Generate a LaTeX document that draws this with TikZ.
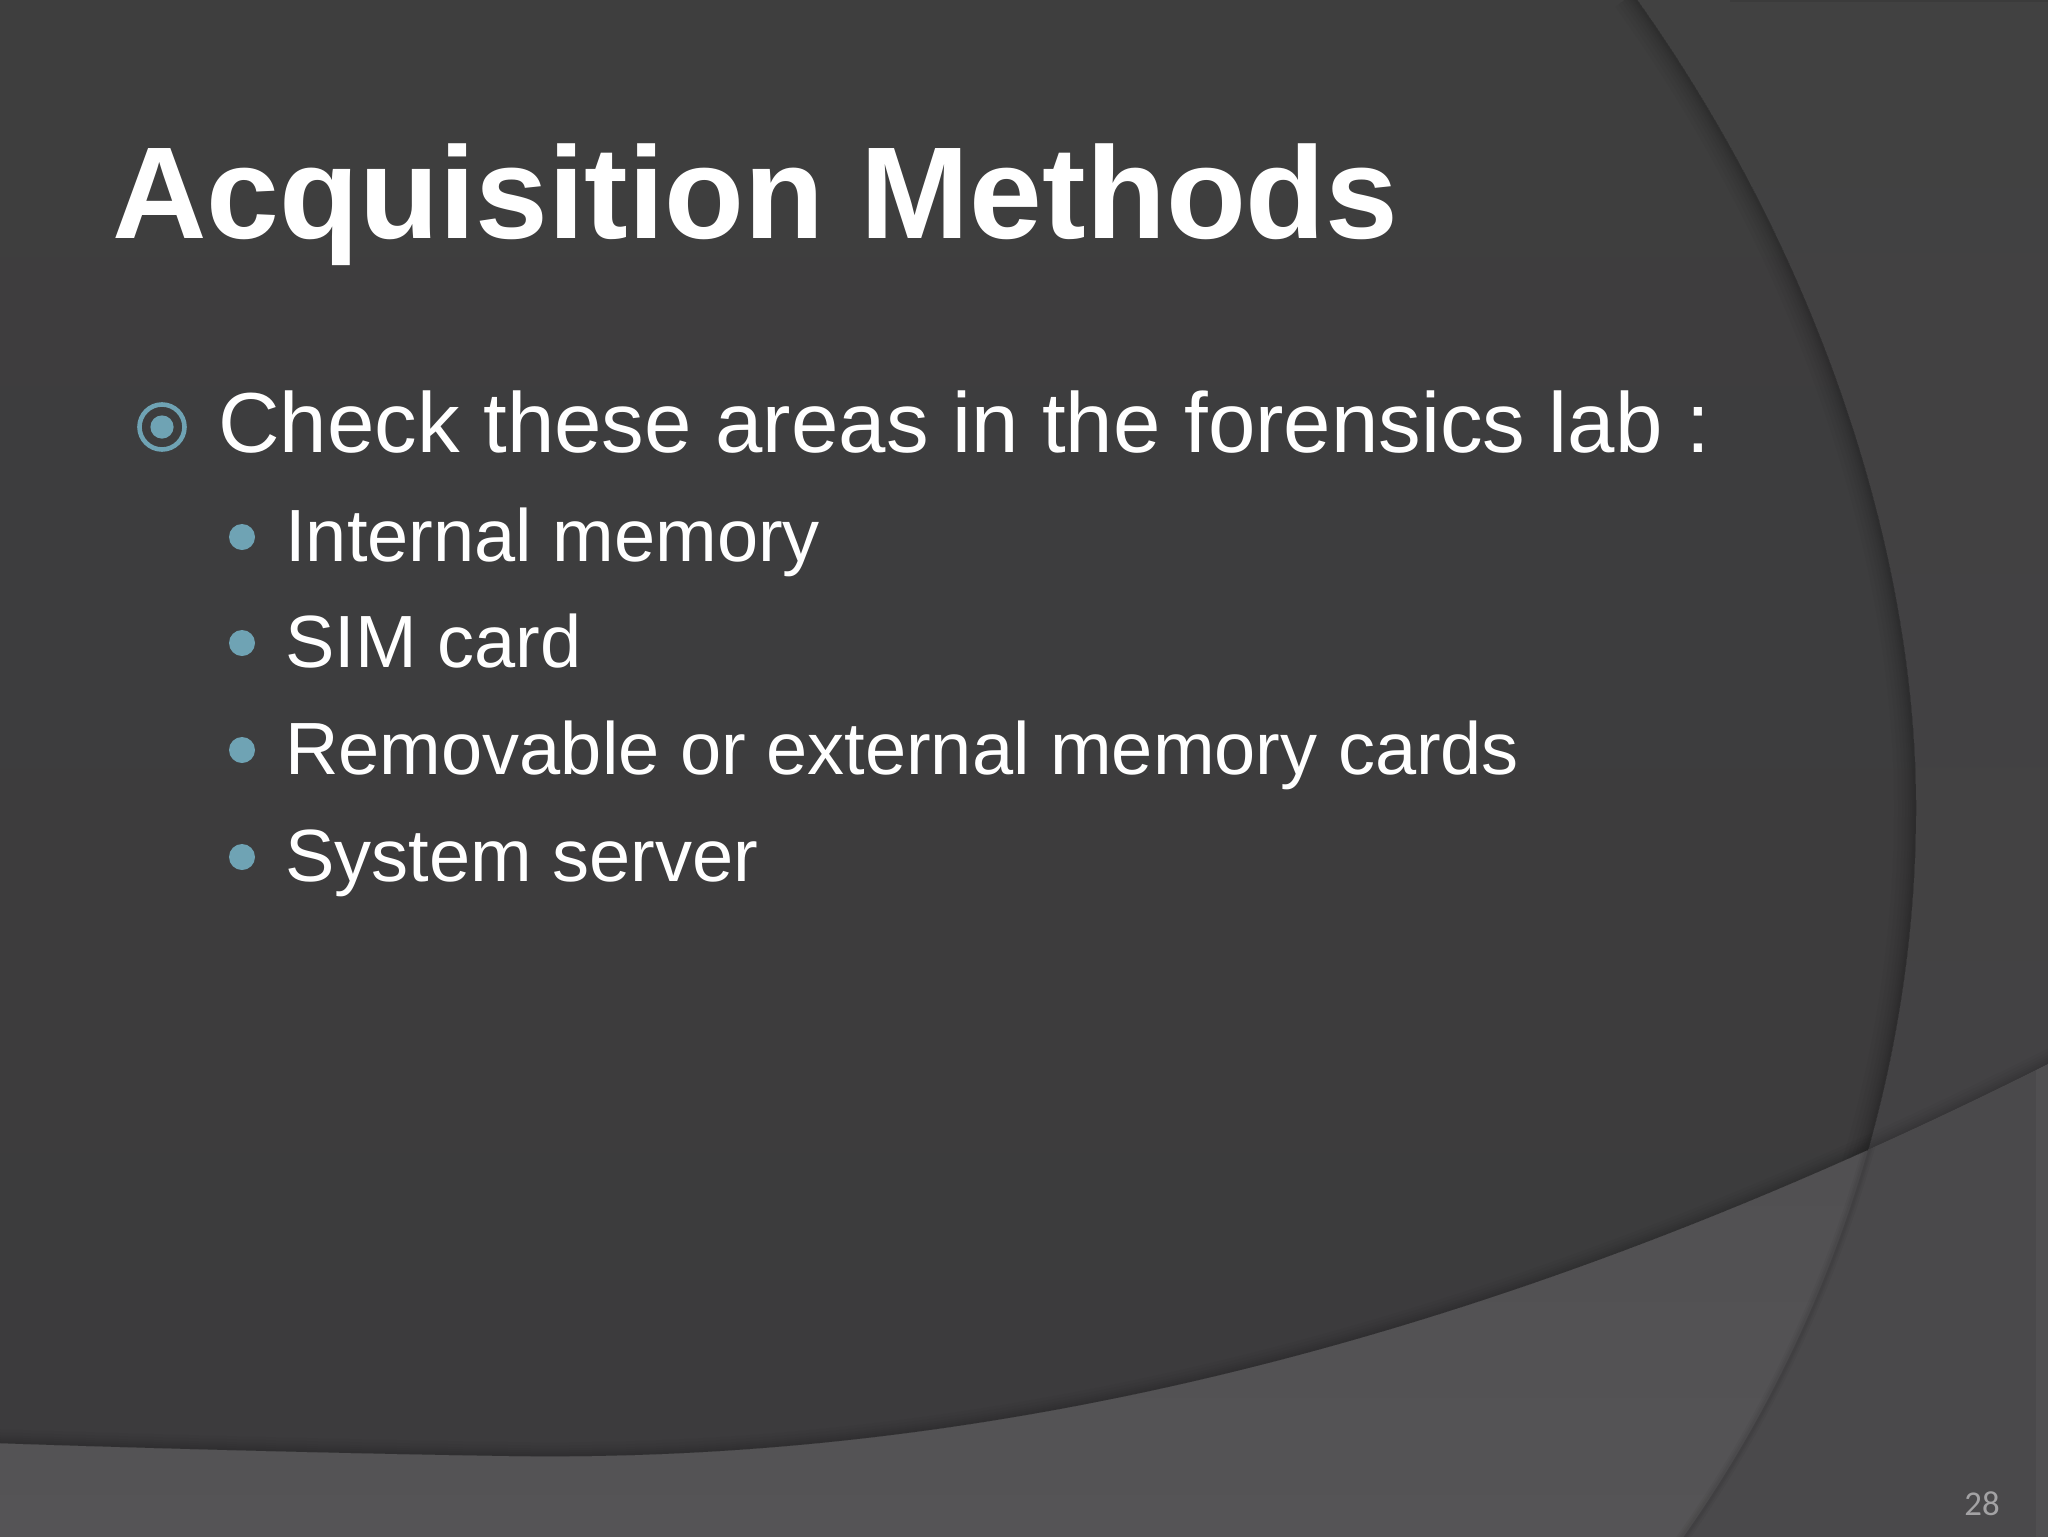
\documentclass[tikz,border=0pt]{standalone}
\usepackage{fontspec}
\setmainfont{Liberation Sans}
\newfontfamily\numfont{Carlito}
\definecolor{bgtop}{HTML}{3E3E3E}
\definecolor{bgbot}{HTML}{3C3B3D}
\definecolor{rtop}{HTML}{414141}
\definecolor{rbot}{HTML}{444245}
\definecolor{bandl}{HTML}{504F51}
\definecolor{bandlb}{HTML}{555456}
\definecolor{bandr}{HTML}{4A494B}
\definecolor{teal}{HTML}{6FA3B4}
\definecolor{numc}{HTML}{A3A2A4}
\def\arcp{(1633,-6) .. controls (1810,240) and (1916,540) .. (1916,808) .. controls (1916,1060) and (1838,1320) .. (1680,1542)}
\def\bandp{(-6,1443) .. controls (200,1450) and (400,1454.4) .. (510,1456) .. controls (1050,1464) and (1560,1310) .. (2054,1061)}
\tikzset{
 x=0.5pt,y=-0.5pt,
 ttl/.style={anchor=base west,inner sep=0,text=white,font=\fontsize{65.4}{72}\bfseries\selectfont},
 lvlone/.style={anchor=base west,inner sep=0,text=white,font=\fontsize{42.6}{48}\selectfont},
 lvltwo/.style={anchor=base west,inner sep=0,text=white,font=\fontsize{37}{44}\selectfont},
 dotb/.style={circle,fill=teal,draw=none,inner sep=0,minimum size=13pt},
}
\begin{document}
\begin{tikzpicture}
\useasboundingbox (0,0) rectangle (2048,1536);
\begin{scope}
\clip (0,0) rectangle (2048,1536);
\shade[top color=bgtop,bottom color=bgbot] (0,0) rectangle (2048,1536);
% right of arc
\shade[top color=rtop,bottom color=rbot] \arcp -- (2054,1542) -- (2054,-6) -- cycle;
% arc shadow above band, inner side
\begin{scope}
\clip \arcp -- (-6,1542) -- (-6,-6) -- cycle;
\foreach \w in {44,36,28,22,16,12,8,5}
  \draw[black,line width=\w*0.5pt,opacity=0.025] \arcp;
\end{scope}
% band
\shade[top color=bandl,bottom color=bandlb] (-6,1061) rectangle (2054,1542);
\begin{scope}
\clip \arcp -- (-6,1542) -- (-6,-6) -- cycle;
\end{scope}
% restore the part above the band
\begin{scope}
\clip \bandp -- (2054,-6) -- (-6,-6) -- cycle;
\shade[top color=bgtop,bottom color=bgbot] (0,0) rectangle (2048,1536);
\shade[top color=rtop,bottom color=rbot] \arcp -- (2054,1542) -- (2054,-6) -- cycle;
\begin{scope}
\clip \arcp -- (-6,1542) -- (-6,-6) -- cycle;
\foreach \w in {44,36,28,22,16,12,8,5}
  \draw[black,line width=\w*0.5pt,opacity=0.025] \arcp;
\end{scope}
\foreach \w in {28,22,16,12,8,4}
  \draw[black,line width=\w*0.5pt,opacity=0.025] \bandp;
\end{scope}
% band right part
\begin{scope}
\clip \bandp -- (2054,1542) -- (-6,1542) -- cycle;
\fill[bandr] \arcp -- (2054,1542) -- (2054,-6) -- cycle;
\foreach \w in {12,8,5}
  \draw[black,line width=\w*0.5pt,opacity=0.035] \arcp;
\fill[white,opacity=0.035] (2036,0) rectangle (2054,1542);
\end{scope}
\fill[black,opacity=0.08] (1730,0) rectangle (2048,2);
\end{scope}
% text
\node[ttl] (title) at (112,238) {Acquisition Methods};
\node[circle,draw=teal,line width=2.3pt,fill=none,inner sep=0,minimum size=22.5pt] (ring) at (162,427) {};
\node[circle,fill=teal,inner sep=0,minimum size=11.6pt] (ringdot) at (ring.center) {};
\node[lvlone] (main) at (218,452) {Check these areas in the forensics lab :};
\node[dotb] (d1) at (242,537) {};
\node[dotb] (d2) at (242,643) {};
\node[dotb] (d3) at (242,750) {};
\node[dotb] (d4) at (242,857) {};
\node[lvltwo] (t1) at (285,561) {Internal memory};
\node[lvltwo] (t2) at (285,667) {SIM card};
\node[lvltwo] (t3) at (285,774) {Removable or external memory cards};
\node[lvltwo] (t4) at (285,881) {System server};
\node[anchor=base west,inner sep=0,text=numc,font=\numfont\fontsize{17.4}{20}\selectfont] (num) at (1964,1515) {28};
\end{tikzpicture}
\end{document}
